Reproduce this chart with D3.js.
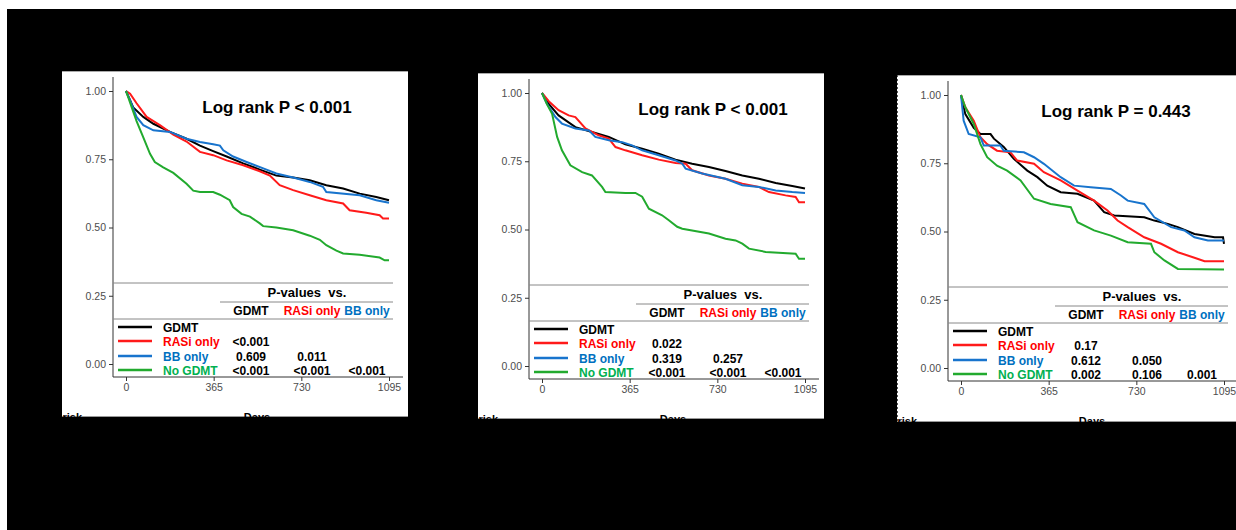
<!DOCTYPE html>
<html>
<head>
<meta charset="UTF-8">
<title>KM curves</title>
<script src="https://cdn.jsdelivr.net/npm/d3@7"></script>
<style>
  body { margin: 0; background: #fff; }
  svg { display: block; font-family: "Liberation Sans", Arial, sans-serif; }
  .tick text { fill: #4d4d4d; font-size: 10.5px; }
  .tick line { stroke: #333; }
</style>
</head>
<body>
<svg id="chart" width="1236" height="530"></svg>
<script>
// groups / colours
var groups = ["GDMT", "RASi only", "BB only", "No GDMT"];
var lineColors = ["#000000", "#ff1a1a", "#1874cd", "#22aa2e"];
var textColors = ["#000000", "#ff0000", "#0070c0", "#00b050"];
var yTicks = [0, 0.25, 0.5, 0.75, 1];
var xTicks = [0, 365, 730, 1095];

// panel 1  [days, survival]
var p1Gdmt = [[0,1],[30,0.94],[72,0.905],[114,0.88],[183,0.85],[252,0.825],[308,0.80],[363,0.78],[419,0.76],[488,0.735],[557,0.712],[626,0.69],[696,0.683],[765,0.673],[834,0.655],[904,0.643],[973,0.624],[1042,0.612],[1095,0.60]];
var p1Rasi = [[0,1],[17,0.99],[44,0.955],[86,0.905],[141,0.875],[197,0.84],[252,0.815],[308,0.777],[363,0.765],[419,0.746],[488,0.728],[557,0.706],[599,0.69],[640,0.655],[696,0.637],[765,0.618],[834,0.60],[904,0.588],[931,0.563],[1000,0.554],[1056,0.545],[1070,0.533],[1095,0.533]];
var p1Bb = [[0,1],[17,0.966],[44,0.905],[72,0.875],[114,0.856],[183,0.85],[252,0.825],[308,0.813],[363,0.805],[391,0.80],[405,0.783],[446,0.76],[502,0.74],[585,0.712],[626,0.698],[696,0.683],[765,0.667],[820,0.649],[834,0.63],[973,0.618],[1042,0.60],[1095,0.591]];
var p1None = [[0,1],[20,0.95],[44,0.89],[72,0.83],[100,0.77],[120,0.74],[155,0.72],[197,0.70],[252,0.66],[280,0.635],[308,0.63],[363,0.63],[391,0.62],[432,0.60],[446,0.575],[481,0.55],[516,0.54],[557,0.515],[571,0.505],[626,0.50],[696,0.49],[765,0.47],[807,0.455],[834,0.435],[876,0.415],[904,0.405],[973,0.40],[1056,0.39],[1077,0.38],[1095,0.38]];
var p1Pvals = [["<0.001"], ["0.609", "0.011"], ["<0.001", "<0.001", "<0.001"]];

// panel 2
var p2Gdmt = [[0,1],[28,0.96],[69,0.918],[139,0.875],[208,0.857],[278,0.839],[347,0.812],[417,0.796],[486,0.778],[556,0.756],[625,0.741],[695,0.729],[764,0.714],[834,0.698],[903,0.686],[973,0.67],[1042,0.659],[1095,0.65]];
var p2Rasi = [[0,1],[28,0.97],[69,0.937],[111,0.918],[139,0.912],[181,0.87],[236,0.845],[278,0.833],[306,0.802],[347,0.79],[417,0.772],[486,0.756],[556,0.744],[598,0.741],[625,0.717],[695,0.698],[764,0.686],[834,0.668],[903,0.656],[945,0.637],[1014,0.625],[1056,0.619],[1070,0.60],[1095,0.60]];
var p2Bb = [[0,1],[21,0.96],[56,0.912],[83,0.888],[139,0.87],[195,0.863],[222,0.839],[278,0.827],[334,0.82],[375,0.808],[417,0.79],[486,0.772],[556,0.753],[584,0.741],[598,0.723],[667,0.705],[764,0.686],[834,0.662],[903,0.656],[973,0.643],[1042,0.637],[1095,0.634]];
var p2None = [[0,1],[20,0.96],[42,0.924],[63,0.839],[83,0.79],[118,0.735],[167,0.71],[208,0.698],[250,0.656],[264,0.637],[347,0.634],[389,0.634],[417,0.62],[445,0.576],[500,0.552],[528,0.534],[563,0.51],[584,0.503],[695,0.485],[764,0.466],[806,0.46],[834,0.448],[862,0.43],[931,0.418],[1056,0.411],[1070,0.393],[1095,0.393]];
var p2Pvals = [["0.022"], ["0.319", "0.257"], ["<0.001", "<0.001", "<0.001"]];

// panel 3
var p3Gdmt = [[0,1],[18,0.93],[53,0.88],[81,0.857],[123,0.857],[137,0.84],[178,0.81],[220,0.766],[276,0.723],[318,0.699],[359,0.668],[415,0.644],[485,0.638],[554,0.613],[596,0.571],[638,0.559],[763,0.552],[805,0.54],[861,0.528],[903,0.516],[972,0.491],[1056,0.479],[1091,0.479],[1095,0.455]];
var p3Rasi = [[0,1],[18,0.955],[53,0.906],[81,0.845],[109,0.82],[150,0.796],[206,0.79],[234,0.76],[304,0.748],[345,0.717],[415,0.687],[485,0.65],[554,0.613],[610,0.577],[652,0.54],[694,0.516],[763,0.479],[833,0.455],[903,0.424],[972,0.404],[1014,0.391],[1095,0.391]];
var p3Bb = [[0,1],[11,0.906],[32,0.857],[81,0.845],[95,0.815],[164,0.815],[178,0.796],[262,0.79],[304,0.772],[345,0.748],[415,0.699],[471,0.668],[540,0.662],[624,0.656],[666,0.632],[694,0.613],[763,0.601],[805,0.552],[875,0.516],[930,0.504],[972,0.479],[1028,0.467],[1095,0.467]];
var p3None = [[0,1],[18,0.955],[53,0.894],[81,0.82],[109,0.772],[150,0.741],[192,0.723],[248,0.687],[304,0.62],[373,0.601],[457,0.589],[485,0.534],[554,0.504],[624,0.485],[694,0.461],[791,0.455],[805,0.424],[847,0.394],[903,0.363],[1095,0.361]];
var p3Pvals = [["0.17"], ["0.612", "0.050"], ["0.002", "0.106", "0.001"]];

var panels = [
  { x: 62, y: 71, w: 346, h: 346, title: "Log rank P < 0.001", tx: 215, curves: [p1Gdmt, p1Rasi, p1Bb, p1None], pvals: p1Pvals },
  { x: 478, y: 73, w: 346, h: 346, title: "Log rank P < 0.001", tx: 235, curves: [p2Gdmt, p2Rasi, p2Bb, p2None], pvals: p2Pvals },
  { x: 897, y: 75, w: 345, h: 347, title: "Log rank P = 0.443", tx: 219, curves: [p3Gdmt, p3Rasi, p3Bb, p3None], pvals: p3Pvals }
];

var svg = d3.select("#chart");

// black backdrop
svg.append("rect").attr("x", 7).attr("y", 9).attr("width", 1229).attr("height", 521).attr("fill", "#000");

var x = d3.scaleLinear().domain([0, 1095]).range([64, 327]);
var y = d3.scaleLinear().domain([0, 1]).range([293, 20]);
var line = d3.line().x(function(d) { return x(d[0]); }).y(function(d) { return y(d[1]); });
var colX = [189, 250, 305];
var rowY = [256, 270, 285, 299];

panels.forEach(function(p, pi) {
  var g = svg.append("g").attr("transform", "translate(" + p.x + "," + p.y + ")");

  g.append("rect").attr("width", p.w).attr("height", p.h).attr("fill", "#fff");
  g.append("line").attr("x1", 0).attr("x2", p.w).attr("y1", 0.5).attr("y2", 0.5).attr("stroke", "#aaa");
  g.append("line").attr("x1", 0).attr("x2", p.w).attr("y1", p.h - 0.5).attr("y2", p.h - 0.5).attr("stroke", "#999");
  if (pi == 2) {
    g.append("line").attr("x1", 0.5).attr("x2", 0.5).attr("y1", 0).attr("y2", p.h)
      .attr("stroke", "#555").attr("stroke-dasharray", "2,2");
  }

  // axes
  var ya = g.append("g").attr("transform", "translate(51,0)")
    .call(d3.axisLeft(y).tickValues(yTicks).tickFormat(d3.format(".2f")).tickSize(4).tickPadding(3));
  ya.select(".domain").remove();
  var xa = g.append("g").attr("transform", "translate(0,306)")
    .call(d3.axisBottom(x).tickValues(xTicks).tickFormat(d3.format("d")).tickSize(4).tickPadding(3));
  xa.select(".domain").remove();
  g.append("line").attr("x1", 51).attr("x2", 51).attr("y1", 6).attr("y2", 306).attr("stroke", "#333");
  g.append("line").attr("x1", 51).attr("x2", 341).attr("y1", 306).attr("y2", 306).attr("stroke", "#333");

  // curves
  p.curves.forEach(function(c, i) {
    g.append("path").attr("d", line(c)).attr("fill", "none")
      .attr("stroke", lineColors[i]).attr("stroke-width", 2);
  });

  g.append("text").attr("x", p.tx).attr("y", 42).attr("text-anchor", "middle")
    .attr("font-size", 17).attr("font-weight", "bold").text(p.title);

  // p-value table
  [[51, 212], [158, 231], [51, 248]].forEach(function(l) {
    g.append("line").attr("x1", l[0]).attr("x2", 331).attr("y1", l[1]).attr("y2", l[1])
      .attr("stroke", "#888").attr("stroke-width", 1);
  });
  g.append("text").attr("x", 245).attr("y", 226).attr("text-anchor", "middle")
    .attr("font-size", 13).attr("font-weight", "bold").style("white-space", "pre").text("P-values  vs.");
  groups.slice(0, 3).forEach(function(name, i) {
    g.append("text").attr("x", colX[i]).attr("y", 244).attr("text-anchor", "middle")
      .attr("font-size", 12).attr("font-weight", "bold").attr("fill", textColors[i]).text(name);
  });

  groups.forEach(function(name, i) {
    g.append("line").attr("x1", 56).attr("x2", 90).attr("y1", rowY[i]).attr("y2", rowY[i])
      .attr("stroke", lineColors[i]).attr("stroke-width", 2.5);
    g.append("text").attr("x", 101).attr("y", rowY[i] + 4.5).attr("font-size", 12)
      .attr("font-weight", "bold").attr("fill", textColors[i]).text(name);
  });
  p.pvals.forEach(function(row, r) {
    row.forEach(function(v, c) {
      g.append("text").attr("x", colX[c]).attr("y", rowY[r + 1] + 4.5).attr("text-anchor", "middle")
        .attr("font-size", 12).attr("font-weight", "bold").text(v);
    });
  });

  // cut-off labels at the bottom edge
  g.append("text").attr("x", 195).attr("y", 350).attr("text-anchor", "middle")
    .attr("font-size", 11).attr("font-weight", "bold").text("Days");
  g.append("text").attr("x", 20).attr("y", 350).attr("text-anchor", "end")
    .attr("font-size", 11).attr("font-weight", "bold").text("risk");
});

svg.append("rect").attr("x", 0).attr("y", 0).attr("width", 1236).attr("height", 9).attr("fill", "#fff");
</script>
</body>
</html>
